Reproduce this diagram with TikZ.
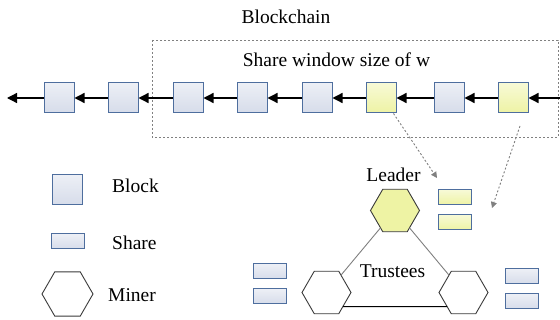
\documentclass[tikz,border=0pt]{standalone}
\usepackage{fontspec}
\setmainfont{Liberation Serif}
\usetikzlibrary{arrows.meta,shapes.geometric}
\definecolor{blockedge}{HTML}{4E6E9E}
\definecolor{blockfill}{HTML}{D6DCEA}
\definecolor{leaderfill}{HTML}{EEF3A4}
\definecolor{hexedge}{HTML}{3A3A3A}
\tikzset{
  block/.style={draw=blockedge, line width=1pt, top color=#1!45, bottom color=#1,
    minimum width=30pt, minimum height=30pt, inner sep=0pt},
  block/.default=blockfill,
  share/.style={block=#1, minimum width=33pt, minimum height=15pt},
  share/.default=blockfill,
  miner/.style={draw=hexedge, line width=0.9pt, regular polygon, regular polygon sides=6,
    minimum size=49pt, inner sep=0pt, outer sep=0pt},
  chain arrow/.style={-{Triangle[length=10pt,width=10pt]}, line width=1.3pt},
  window/.style={gray, line width=0.6pt, dash pattern=on 2pt off 2pt},
  pointer/.style={-{Triangle[length=6pt,width=6pt]}, gray, line width=0.9pt, dash pattern=on 2pt off 2pt},
  lbl/.style={font=\fontsize{19.5}{23}\selectfont, inner sep=0pt},
}
\begin{document}
\begin{tikzpicture}[x=1pt, y=-1pt]
  \useasboundingbox (0,0) rectangle (560,320);
  \fill[white] (0,0) rectangle (560,320);

  % Share window
  \draw[window] (152,40) rectangle (558,137);
  \node[lbl] (title) at (286,17) {Blockchain};
  \node[lbl] (wlabel) at (336.5,60) {Share window size of w};

  % Chain of blocks (two yellow ones carry shares)
  \foreach \i/\x/\f in {1/59/blockfill, 2/123/blockfill, 3/188/blockfill, 4/252/blockfill,
    5/317/blockfill, 6/381/leaderfill, 7/449/blockfill, 8/513/leaderfill}
    \node[block=\f] (b\i) at (\x,98) {};
  \coordinate (chainL) at (7,98);
  \coordinate (chainR) at (560,98);
  \draw[chain arrow] (b1) -- (chainL);
  \foreach \a/\b in {2/1, 3/2, 4/3, 5/4, 6/5, 7/6, 8/7}
    \draw[chain arrow] (b\a) -- (b\b);
  \draw[chain arrow] (chainR) -- (b8);

  % Trustees
  \node[miner, fill=leaderfill] (leader) at (395,210.5) {};
  \node[miner] (tl) at (326.5,292.5) {};
  \node[miner] (tr) at (463.5,292.5) {};
  \draw[gray, line width=0.9pt] (leader) -- (tl);
  \draw[gray, line width=0.9pt] (leader) -- (tr);
  \draw[line width=1.1pt] (tl.-41) -- (tr.-139);
  \node[lbl] (leaderlbl) at (393.5,175) {Leader};
  \node[lbl] (trustlbl) at (392.5,271) {Trustees};

  % Shares held by each miner
  \node[share=leaderfill] (ls1) at (455,197.5) {};
  \node[share=leaderfill] (ls2) at (455,222.5) {};
  \node[share] (ts1) at (269.5,271.5) {};
  \node[share] (ts2) at (269.5,296.5) {};
  \node[share] (rs1) at (522,276.5) {};
  \node[share] (rs2) at (522,301.5) {};

  % Shares sent to the leader
  \coordinate (p1) at (437,178);
  \coordinate (s2) at (520,126);
  \coordinate (p2) at (492,208);
  \draw[pointer] ([xshift=-3pt]b6.south east) -- (p1);
  \draw[pointer] (s2) -- (p2);

  % Legend
  \node[block] (lgblock) at (67.5,190) {};
  \node[lbl, anchor=west] (lgblocklbl) at (112,186) {Block};
  \node[share] (lgshare) at (68,241.5) {};
  \node[lbl, anchor=west] (lgsharelbl) at (112,243) {Share};
  \node[miner, minimum size=51pt] (lgminer) at (67.5,294) {};
  \node[lbl, anchor=west] (lgminerlbl) at (108,295) {Miner};
\end{tikzpicture}
\end{document}
